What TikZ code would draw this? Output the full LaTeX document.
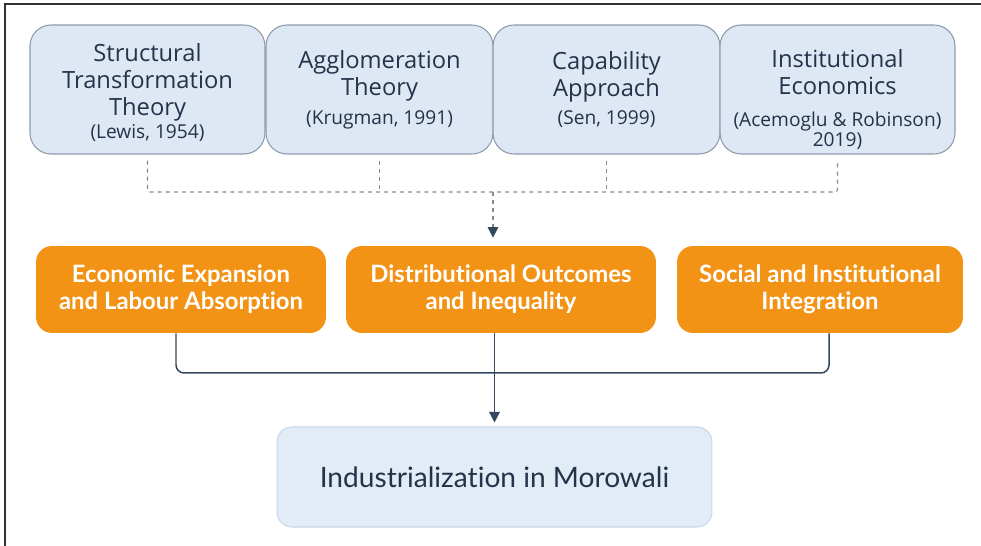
\documentclass[tikz,border=0pt]{standalone}
\usepackage{fontspec}
\setmainfont{Open Sans}
\newfontfamily\labelfont[Ligatures=NoCommon]{Lato}
\usetikzlibrary{arrows.meta}

\definecolor{theoryfill}{HTML}{DDE8F4}
\definecolor{theoryedge}{HTML}{8C9BAB}
\definecolor{inkblue}{HTML}{22334A}
\definecolor{pathorange}{HTML}{F39316}
\definecolor{outfill}{HTML}{E2ECF7}
\definecolor{outedge}{HTML}{C9D7E6}
\definecolor{dashgray}{HTML}{7E8C9A}
\definecolor{linkblue}{HTML}{34475B}
\definecolor{framegray}{HTML}{333333}

\newcommand{\refnote}[1]{{\fontsize{10.9}{12.5}\selectfont #1}}

\tikzset{
  theorybox/.style={draw=theoryedge, fill=theoryfill, line width=0.6pt,
    rounded corners=0.42cm, minimum height=2.58cm, align=center,
    text=inkblue, font=\fontsize{13.5}{15.4}\selectfont, inner sep=2pt},
  pathbox/.style={fill=pathorange, rounded corners=0.32cm,
    minimum height=1.74cm, align=center, text=white,
    font=\labelfont\bfseries\fontsize{13.6}{15.4}\selectfont},
  outbox/.style={draw=outedge, fill=outfill, line width=0.6pt,
    rounded corners=0.3cm, minimum width=8.7cm, minimum height=2cm,
    text=inkblue, font=\labelfont\fontsize{16}{19}\selectfont},
  dashlink/.style={draw=dashgray, line width=0.6pt,
    dash pattern=on 2.3pt off 2.3pt, rounded corners=1.5pt},
  link/.style={draw=linkblue, line width=0.85pt},
  tip/.style={-{Triangle[width=6pt,length=6pt,color=linkblue,fill=linkblue]}}
}

\begin{document}
\begin{tikzpicture}[x=0.02cm, y=-0.02cm]
  \useasboundingbox[fill=white] (0,0) rectangle (981,546);
  \draw[framegray, line width=1.1pt] (5,546) -- (5,4) -- (981,4);

  % theories
  \node[theorybox, minimum width=4.7cm] (structural) at (147.5,89.5)
    {\mbox{}\\[-1.7pt]Structural\\Transformation\\Theory\\[-2.5pt]\refnote{(Lewis, 1954)}};
  \node[theorybox, minimum width=4.54cm] (agglomeration) at (379.5,89.5)
    {Agglomeration\\Theory\\[1pt]\refnote{(Krugman, 1991)}};
  \node[theorybox, minimum width=4.54cm] (capability) at (606.5,89.5)
    {Capability\\Approach\\[1pt]\refnote{(Sen, 1999)}};
  \node[theorybox, minimum width=4.7cm] (institutional) at (837.5,89.5)
    {\mbox{}\\[6pt]Institutional\\Economics\\[3pt]\refnote{(Acemoglu \& Robinson)}\\[-4.5pt]\refnote{2019)}};

  % pathways
  \node[pathbox, minimum width=5.8cm] (expansion) at (181,289.5)
    {Economic Expansion\\and Labour Absorption};
  \node[pathbox, minimum width=6.2cm] (distributional) at (501,289.5)
    {Distributional Outcomes\\and Inequality};
  \node[pathbox, minimum width=5.72cm] (integration) at (820,289.5)
    {Social and Institutional\\Integration};

  \node[outbox] (outcome) at (494.5,477) {Industrialization in Morowali};

  \coordinate (bus) at (493,192);
  \coordinate (merge) at (494,373);

  \draw[dashlink] ([yshift=-0.12cm]structural.south) |- (bus)
    -| ([yshift=-0.12cm]institutional.south);
  \foreach \src in {agglomeration,capability}{
    \draw[dashlink] ([yshift=-0.12cm]\src.south) -- (\src.south |- bus);
  }
  \draw[dashlink, tip, shorten >=0.16cm] (bus) -- (bus |- distributional.north);

  \draw[link, rounded corners=0.16cm] ([xshift=-0.1cm]expansion.south) |- (merge)
    -| ([xshift=0.18cm]integration.south);
  \draw[link, tip, shorten >=0.08cm] (outcome.north |- distributional.south) -- (outcome.north);
\end{tikzpicture}
\end{document}
